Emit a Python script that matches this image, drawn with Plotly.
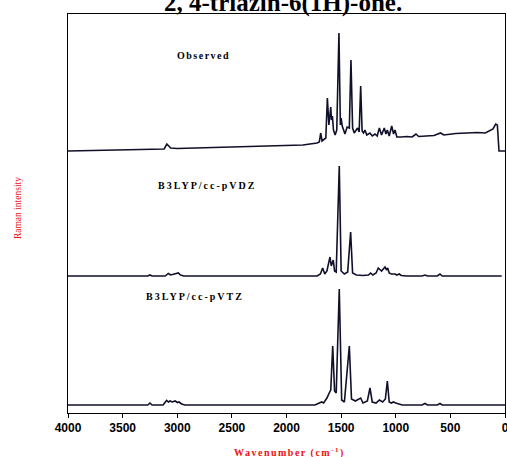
import plotly.graph_objects as go

# ---- data (wavenumber cm-1, intensity in arbitrary units above each trace's baseline)
obs_wn = [4000, 3700, 3400, 3200, 3120, 3095, 3080, 3060, 3000, 2700, 2400, 2100, 1850, 1720, 1700,
          1687, 1675, 1640, 1626, 1612, 1600, 1595, 1588, 1580, 1570, 1555, 1540, 1520, 1507, 1500,
          1490, 1465, 1445, 1425, 1410, 1395, 1380, 1350, 1335, 1321, 1308, 1295, 1282, 1265, 1236,
          1215, 1190, 1170, 1150, 1130, 1105, 1090, 1077, 1060, 1037, 1020, 1007, 990, 950, 900,
          850, 815, 790, 720, 650, 590, 560, 450, 350, 250, 180, 140, 110, 85, 70, 55, 0]
obs_int = [0, 0.5, 1, 1.5, 2, 7, 5, 3, 2.5, 3.5, 4, 5, 6, 8, 9,
           18, 10, 13, 53, 26, 41, 44, 31, 35, 21, 16, 21, 118, 26, 33,
           25, 17, 24, 23, 91, 23, 18, 23, 19, 65, 20, 18, 21, 16, 18,
           15, 17, 15, 23, 16, 23, 17, 21, 15, 25, 17, 21, 14, 14, 14.5,
           14, 17, 14.5, 15, 15.5, 18, 16, 17.5, 18, 18.5, 18, 20, 22, 27, 26, 0, 0]

vdz_wn = [4000, 3270, 3250, 3230, 3110, 3082, 3060, 3040, 3010, 2990, 2970, 2940, 1720, 1690,
          1669, 1650, 1630, 1602, 1590, 1572, 1560, 1545, 1517, 1500, 1470, 1440, 1413, 1395,
          1360, 1300, 1250, 1230, 1210, 1180, 1160, 1130, 1098, 1085, 1074, 1060, 1040, 1007,
          990, 968, 950, 900, 760, 732, 710, 620, 595, 575, 30]
vdz_int = [0, 0, 1, 0, 0, 2.5, 1, 1.5, 2.5, 3, 1, 0, 0, 2,
           8, 2, 5, 19, 10, 16, 5, 4, 110, 5, 2, 4, 44, 3,
           1, 0.5, 1, 3, 1, 3, 8, 5, 9, 6, 8, 3, 2, 2,
           1, 2, 0.5, 0, 0, 1, 0, 0, 2, 0, 0]

vtz_wn = [4000, 3270, 3250, 3230, 3130, 3097, 3080, 3066, 3045, 3020, 2998, 2984, 2960, 2930,
          1740, 1700, 1678, 1660, 1630, 1609, 1595, 1577, 1560, 1545, 1517, 1495, 1470, 1425,
          1405, 1370, 1340, 1321, 1300, 1260, 1236, 1215, 1180, 1150, 1120, 1095, 1077, 1060,
          1040, 1022, 1000, 970, 940, 760, 732, 710, 620, 595, 575, 0]
vtz_int = [0, 0, 2, 0, 0, 4.5, 3, 4, 3, 4, 2.5, 3, 1, 0,
           0, 2, 3, 2, 7, 12, 15, 59, 14, 12, 116, 5, 3, 59,
           6, 4, 6, 7, 2, 4, 17, 3, 2, 5, 3, 6, 24, 3,
           2, 3, 2, 1, 0, 0, 1.5, 0, 0, 1.5, 0, 0]

series_names = ["Observed", "B3LYP/cc-pVDZ", "B3LYP/cc-pVTZ"]
x_ticks = [4000, 3500, 3000, 2500, 2000, 1500, 1000, 500, 0]
title_text = "2, 4-triazin-6(1H)-one."
x_title = "Wavenumber (cm<sup>-1</sup>)"
y_title = "Raman intensity"

# stacking offsets (layout)
offsets = [262, 137, 8]

fig = go.Figure()
line_color = "#10102a"
for wn, inten, off, name in zip([obs_wn, vdz_wn, vtz_wn], [obs_int, vdz_int, vtz_int], offsets, series_names):
    fig.add_trace(go.Scatter(x=wn, y=[v + off for v in inten], mode="lines", name=name,
                             line=dict(color=line_color, width=1.6), showlegend=False))

axis_common = dict(showline=True, linecolor="black", linewidth=1, mirror=True, showgrid=False,
                   zeroline=False, automargin=False)
fig.update_xaxes(range=[4000, 0], tickvals=x_ticks, ticktext=[str(t) for t in x_ticks],
                 ticks="outside", ticklen=4, tickcolor="black", ticklabeloverflow="allow",
                 tickfont=dict(family="Liberation Sans", size=12, color="black", weight="bold"),
                 **axis_common)
fig.update_yaxes(range=[0, 399], showticklabels=False, ticks="", **axis_common)

ann = []
ann.append(dict(text="<b>" + title_text + "</b>", xref="paper", yref="paper", x=0.493, y=0.9865,
                xanchor="center", yanchor="bottom", showarrow=False,
                font=dict(family="Liberation Serif", size=25, color="black")))
label_pos = [(0.310, 0.895), (0.318, 0.569), (0.290, 0.291)]
label_spacing = ["1.5px", "2px", "2px"]
for name, (px, py), ls in zip(series_names, label_pos, label_spacing):
    ann.append(dict(text='<span style="letter-spacing:%s"><b>%s</b></span>' % (ls, name),
                    xref="paper", yref="paper", x=px, y=py,
                    xanchor="center", yanchor="middle", showarrow=False,
                    font=dict(family="Liberation Serif", size=10, color="black")))
ann.append(dict(text='<span style="letter-spacing:1.5px"><b>' + x_title + "</b></span>",
                xref="paper", yref="paper", x=0.506, y=-0.100,
                xanchor="center", yanchor="middle", showarrow=False,
                font=dict(family="Liberation Serif", size=10, color="#ee1111")))
ann.append(dict(text=y_title, xref="paper", yref="paper", x=-0.114, y=0.514, textangle=-90,
                xanchor="center", yanchor="middle", showarrow=False,
                font=dict(family="Liberation Serif", size=9.5, color="#ee1111")))

fig.update_layout(width=507, height=457, margin=dict(l=68, r=2, t=14, b=44),
                  plot_bgcolor="white", paper_bgcolor="white", annotations=ann)

fig.write_html("out.html", config={"displayModeBar": False},
               post_script="document.body.style.margin='0';document.body.style.overflow='hidden';")
